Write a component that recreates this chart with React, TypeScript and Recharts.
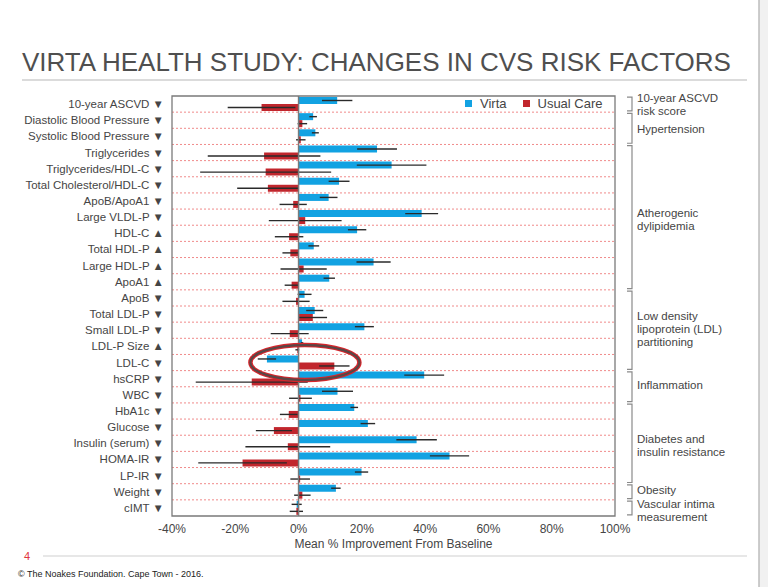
import {
  Bar,
  BarChart,
  CartesianGrid,
  ErrorBar,
  Legend,
  ReferenceArea,
  ReferenceLine,
  XAxis,
  YAxis,
} from 'recharts';

const factors = [
  '10-year ASCVD ▼',
  'Diastolic Blood Pressure ▼',
  'Systolic Blood Pressure ▼',
  'Triglycerides ▼',
  'Triglycerides/HDL-C ▼',
  'Total Cholesterol/HDL-C ▼',
  'ApoB/ApoA1 ▼',
  'Large VLDL-P ▼',
  'HDL-C ▲',
  'Total HDL-P ▲',
  'Large HDL-P ▲',
  'ApoA1 ▲',
  'ApoB ▼',
  'Total LDL-P ▼',
  'Small LDL-P ▼',
  'LDL-P Size ▲',
  'LDL-C ▼',
  'hsCRP ▼',
  'WBC ▼',
  'HbA1c ▼',
  'Glucose ▼',
  'Insulin (serum) ▼',
  'HOMA-IR ▼',
  'LP-IR ▼',
  'Weight ▼',
  'cIMT ▼',
];

const virta = [
  12.2, 4.6, 5.3, 24.8, 29.4, 12.8, 9.5, 38.9, 18.5, 4.8, 23.7, 9.7, 1.9, 5.1, 20.8, 1.1, -10.0,
  39.7, 12.3, 17.6, 21.9, 37.3, 47.7, 19.9, 11.8, -0.6,
];
const virtaErr = [
  4.8, 1.2, 1.1, 6.3, 11.0, 3.3, 2.8, 5.2, 2.9, 1.7, 5.4, 1.8, 2.2, 2.7, 3.0, 0.4, 2.9, 6.3, 4.9,
  1.2, 2.3, 6.4, 6.2, 2.1, 1.5, 1.6,
];
const usualCare = [
  -11.7, 1.2, 0.7, -10.9, -10.4, -9.7, -1.7, 2.1, -3.0, -2.6, 1.6, -2.2, -0.8, 4.5, -2.8, -0.4,
  11.3, -14.8, 0.6, -3.1, -7.8, -3.4, -17.7, 0.5, 1.2, -0.7,
];
const usualCareErr = [
  10.7, 1.5, 1.5, 17.8, 20.7, 9.7, 4.3, 11.5, 4.5, 2.5, 7.3, 2.2, 4.3, 4.5, 6.0, 0.6, 4.8, 17.7,
  3.6, 2.8, 5.7, 13.4, 14.0, 3.1, 2.6, 2.1,
];

const xTicks = [-40, -20, 0, 20, 40, 60, 80, 100];

// risk factor groups shown on the right, by index range into factors
const groups = [
  { label: ['10-year ASCVD', 'risk score'], from: 0, to: 0, shift: 0 },
  { label: ['Hypertension'], from: 1, to: 2, shift: 1 },
  { label: ['Atherogenic', 'dylipidemia'], from: 3, to: 11, shift: 2.5 },
  { label: ['Low density', 'lipoprotein (LDL)', 'partitioning'], from: 12, to: 16, shift: -1.5 },
  { label: ['Inflammation'], from: 17, to: 18, shift: -2 },
  { label: ['Diabetes and', 'insulin resistance'], from: 19, to: 23, shift: 2.5 },
  { label: ['Obesity'], from: 24, to: 24, shift: -1.5 },
  { label: ['Vascular intima', 'measurement'], from: 25, to: 25, shift: 2.5 },
];

const rows = factors.map((name, i) => ({
  name,
  virta: virta[i],
  virtaErr: virtaErr[i],
  usualCare: usualCare[i],
  usualCareErr: usualCareErr[i],
}));

const W = 768;
const H = 587;
const PLOT_LEFT = 172;
const PLOT_RIGHT = 615;
const PLOT_TOP = 96;
const PLOT_BOTTOM = 516;
const Y_AXIS_W = 164;
const X_AXIS_H = 40;
const BAND = (PLOT_BOTTOM - PLOT_TOP) / factors.length;
const FONT = '"Liberation Sans", Arial, Helvetica, "DejaVu Sans", sans-serif';

const BLUE = '#12a2e2';
const RED = '#c1262d';
const TEXT = '#454545';

const xOf = (v: number) => PLOT_LEFT + ((v - xTicks[0]) / (xTicks[xTicks.length - 1] - xTicks[0])) * (PLOT_RIGHT - PLOT_LEFT);
const bandTop = (i: number) => PLOT_TOP + i * BAND;

// plain tick so long names never wrap
function FactorTick({ x, y, payload }: any) {
  return (
    <text x={x} y={y} dy="0.35em" textAnchor="end" fontSize={11.5} fill={TEXT} fontFamily={FONT}>
      {payload.value}
    </text>
  );
}

function LegendBox() {
  const item = (color: string, label: string, gap: number) => (
    <span style={{ display: 'inline-flex', alignItems: 'center', marginRight: gap }}>
      <span style={{ width: 7, height: 7, background: color, marginRight: 8, display: 'inline-block' }} />
      <span>{label}</span>
    </span>
  );
  return (
    <div style={{ display: 'flex', alignItems: 'center', fontSize: 13, color: TEXT, fontFamily: FONT, whiteSpace: 'nowrap' }}>
      {item(BLUE, 'Virta', 16)}
      {item(RED, 'Usual Care', 0)}
    </div>
  );
}

export default function App() {
  const boundaries = factors.slice(1).map((_, i) => bandTop(i + 1));
  const ldlIdx = factors.indexOf('LDL-C ▼');

  return (
    <div style={{ position: 'absolute', left: 0, top: 0, width: W, height: H, background: '#fff', fontFamily: FONT }}>
      <BarChart
        width={W}
        height={H}
        data={rows}
        layout="vertical"
        barCategoryGap={1}
        barGap={0}
        margin={{ top: PLOT_TOP, right: W - PLOT_RIGHT, bottom: H - PLOT_BOTTOM - X_AXIS_H, left: PLOT_LEFT - Y_AXIS_W }}
      >
        <CartesianGrid
          vertical={false}
          stroke="#f08a8a"
          strokeDasharray="2 2"
          horizontalCoordinatesGenerator={() => boundaries}
        />
        <XAxis
          type="number"
          domain={[xTicks[0], xTicks[xTicks.length - 1]]}
          ticks={xTicks}
          tickFormatter={(v: number) => `${v}%`}
          tickLine={false}
          axisLine={false}
          height={X_AXIS_H}
          tick={{ fontSize: 12, fill: TEXT, fontFamily: FONT }}
          label={{
            value: 'Mean % Improvement From Baseline',
            position: 'insideBottom',
            offset: 8,
            fontSize: 12,
            fill: TEXT,
            fontFamily: FONT,
          }}
        />
        <YAxis
          type="category"
          dataKey="name"
          width={Y_AXIS_W}
          interval={0}
          tickLine={false}
          axisLine={false}
          tick={<FactorTick />}
        />
        <Legend
          layout="horizontal"
          align="center"
          verticalAlign="middle"
          wrapperStyle={{ left: 465, top: 97, width: 'auto', lineHeight: '13px' }}
          content={() => <LegendBox />}
        />
        <Bar dataKey="virta" fill={BLUE} isAnimationActive={false}>
          <ErrorBar dataKey="virtaErr" direction="x" width={0} stroke="#2a2a2a" strokeWidth={1.4} isAnimationActive={false} />
        </Bar>
        <Bar dataKey="usualCare" fill={RED} isAnimationActive={false}>
          <ErrorBar dataKey="usualCareErr" direction="x" width={0} stroke="#2a2a2a" strokeWidth={1.4} isAnimationActive={false} />
        </Bar>
        <ReferenceLine x={0} stroke="#7a7a7a" strokeWidth={1.5} />
        <ReferenceArea x1={xTicks[0]} x2={xTicks[xTicks.length - 1]} fill="none" fillOpacity={0} stroke="#7a7a7a" strokeWidth={1.3} ifOverflow="visible" />
      </BarChart>

      <svg width={W} height={H} style={{ position: 'absolute', left: 0, top: 0, pointerEvents: 'none' }} fontFamily={FONT}>
        <text x={22} y={71} fontSize={26} fill="#4f4f4f">
          VIRTA HEALTH STUDY: CHANGES IN CVS RISK FACTORS
        </text>
        <line x1={22} x2={747} y1={80} y2={80} stroke="#cfcfcf" strokeWidth={1.5} />

        {groups.map((g) => {
          const y1 = bandTop(g.from) + 1.2;
          const y2 = bandTop(g.to + 1) - 1.2;
          const mid = (y1 + y2) / 2 + g.shift;
          const first = mid - ((g.label.length - 1) * 13) / 2;
          return (
            <g key={g.label.join(' ')}>
              <path d={`M627 ${y1} H632 V${y2} H627`} fill="none" stroke="#8a8a8a" strokeWidth={1.2} />
              {g.label.map((line, k) => (
                <text key={line} x={637} y={first + k * 13} dy="0.35em" fontSize={11.5} fill={TEXT}>
                  {line}
                </text>
              ))}
            </g>
          );
        })}

        <ellipse cx={xOf(2)} cy={bandTop(ldlIdx) + BAND / 2} rx={54.5} ry={17.5} fill="none" stroke="#d8262c" strokeWidth={4.5} />
        <ellipse cx={xOf(2)} cy={bandTop(ldlIdx) + BAND / 2} rx={54.5} ry={17.5} fill="none" stroke="#5b4646" strokeWidth={2.2} />

        <text x={24} y={560} fontSize={11} fill="#e0383d">
          4
        </text>
        <line x1={43} x2={747} y1={556} y2={556} stroke="#d0d0d0" strokeWidth={1.2} />
        <text x={18} y={577} fontSize={9} fill="#222">
          © The Noakes Foundation. Cape Town - 2016.
        </text>

        <rect x={759.5} y={0} width={8.5} height={H} fill="#f1f1f1" />
        <line x1={759} x2={759} y1={0} y2={H} stroke="#9a9a9a" strokeWidth={1} />
      </svg>
    </div>
  );
}
